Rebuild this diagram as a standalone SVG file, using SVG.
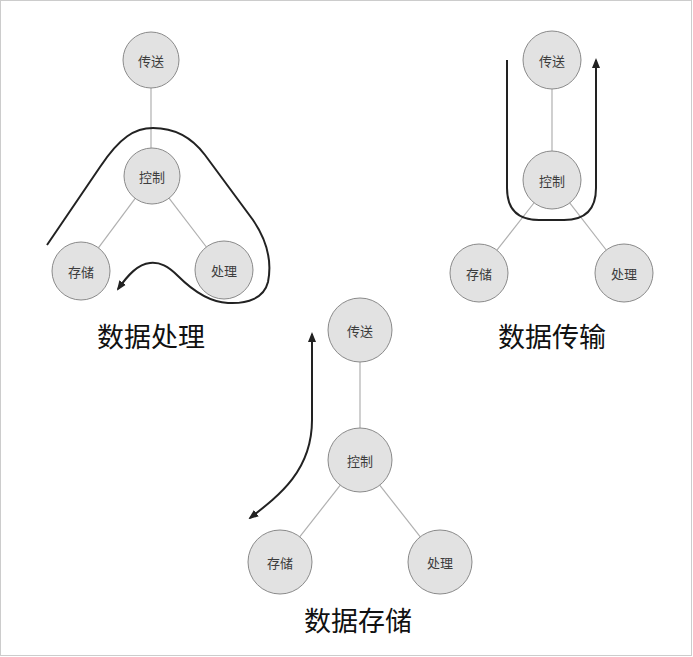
<svg xmlns="http://www.w3.org/2000/svg" width="693" height="657" viewBox="0 0 693 657">
<style>
.node circle{fill:#e2e2e2;stroke:#8a8a8a;stroke-width:1}
.node text{font-family:"Noto Sans CJK SC","Liberation Sans",sans-serif;font-size:13px;fill:#3c3c3c;text-anchor:middle;dominant-baseline:central}
.edge{stroke:#b0b0b0;stroke-width:1.2;fill:none}
.flow{stroke:#222;stroke-width:2;fill:none}
.title{font-family:"Noto Sans CJK SC","Liberation Sans",sans-serif;font-size:27px;font-weight:400;fill:#111;text-anchor:middle}
</style>
<defs>
<marker id="arr" viewBox="0 0 10 10" refX="8" refY="5" markerWidth="5" markerHeight="5" orient="auto-start-reverse">
<path d="M0,1 L10,5 L0,9 z" fill="#222"/>
</marker>
</defs>
<rect x="0.5" y="0.5" width="691" height="655" fill="#fff" stroke="#ccc" stroke-width="1"/>
<g id="connectors">
<line class="edge" x1="151" y1="88" x2="151" y2="148"/>
<line class="edge" x1="135.2" y1="198.4" x2="98.4" y2="247.8"/>
<line class="edge" x1="169" y1="198.2" x2="206.4" y2="247"/>
<line class="edge" x1="552" y1="89" x2="552" y2="151"/>
<line class="edge" x1="534.7" y1="202" x2="496.9" y2="250.2"/>
<line class="edge" x1="569.1" y1="202.1" x2="606.2" y2="250"/>
<line class="edge" x1="360" y1="362" x2="360" y2="428"/>
<line class="edge" x1="340.3" y1="485.2" x2="299.7" y2="536.8"/>
<line class="edge" x1="379.7" y1="485.2" x2="420.3" y2="536.8"/>
<path class="flow" marker-end="url(#arr)" d="M47,245 L100,167 C120,137 135,128 153,128 C172,128 190,135 205,155 L253,220 C268,242 272,262 268,282 C264,298 248,304 228,303 C208,302 192,290 178,276 C168,266 160,262 150,263 C138,264 128,275 118,289"/>
<path class="flow" marker-end="url(#arr)" d="M507,60 V188 Q507,220 539,220 H564 Q596,220 596,188 V60"/>
<path class="flow" marker-start="url(#arr)" marker-end="url(#arr)" d="M312,334 V420 C312,470 280,495 250,518"/>
</g>
<g id="n1-chuansong" class="node"><circle cx="151" cy="60" r="28"/><text x="151" y="60">传送</text></g>
<g id="n1-kongzhi" class="node"><circle cx="152" cy="176" r="28"/><text x="152" y="176">控制</text></g>
<g id="n1-cunchu" class="node"><circle cx="81" cy="271" r="29"/><text x="81" y="271">存储</text></g>
<g id="n1-chuli" class="node"><circle cx="224" cy="270" r="29"/><text x="224" y="270">处理</text></g>
<g id="n2-chuansong" class="node"><circle cx="552" cy="60" r="29"/><text x="552" y="60">传送</text></g>
<g id="n2-kongzhi" class="node"><circle cx="552" cy="180" r="29"/><text x="552" y="180">控制</text></g>
<g id="n2-cunchu" class="node"><circle cx="479" cy="273" r="29"/><text x="479" y="273">存储</text></g>
<g id="n2-chuli" class="node"><circle cx="624" cy="273" r="29"/><text x="624" y="273">处理</text></g>
<g id="n3-chuansong" class="node"><circle cx="360" cy="330" r="32"/><text x="360" y="330">传送</text></g>
<g id="n3-kongzhi" class="node"><circle cx="360" cy="460" r="32"/><text x="360" y="460">控制</text></g>
<g id="n3-cunchu" class="node"><circle cx="280" cy="562" r="32"/><text x="280" y="562">存储</text></g>
<g id="n3-chuli" class="node"><circle cx="440" cy="562" r="32"/><text x="440" y="562">处理</text></g>
<g id="titles">
<text class="title" x="151" y="347">数据处理</text>
<text class="title" x="552" y="347">数据传输</text>
<text class="title" x="358" y="631">数据存储</text>
</g>
</svg>
